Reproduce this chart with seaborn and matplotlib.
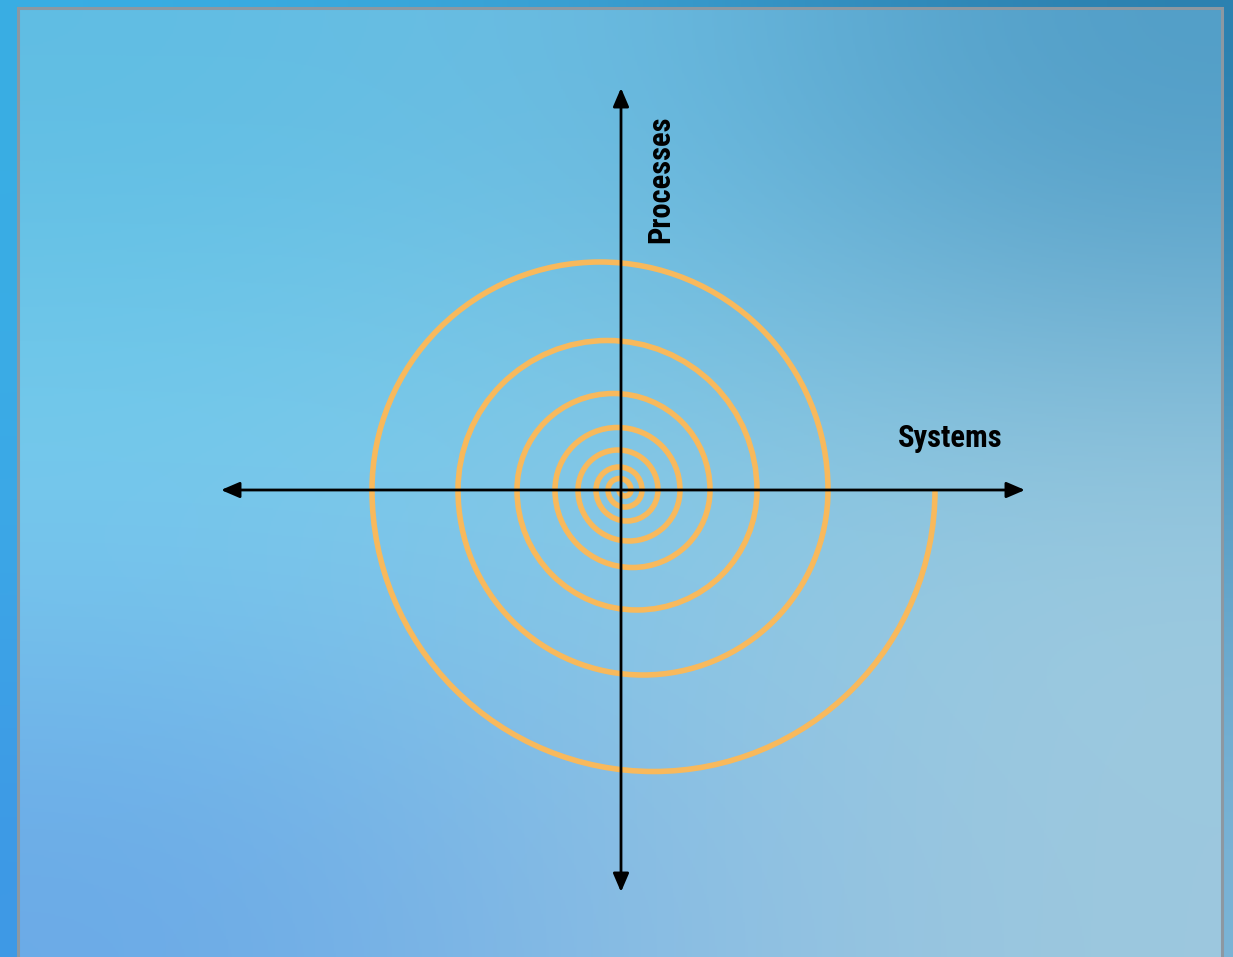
import numpy as np
import matplotlib
matplotlib.use("Agg")
import matplotlib.pyplot as plt
from matplotlib.patches import Arc, Rectangle
from matplotlib.colors import to_rgb
from matplotlib import font_manager
import seaborn as sns

# where the spiral crosses the horizontal axis, from the outside in
# (each pair of neighbours is joined by a half circle, first below the axis, then above)
spiral_crossings = [3.14, -2.49, 2.07, -1.63, 1.36, -1.04, 0.89, -0.66,
                    0.59, -0.43, 0.37, -0.25, 0.21, -0.13, 0.10, -0.02]

# the two axes arms
axis_left, axis_right = -4.00, 4.04
axis_bottom, axis_top = -4.02, 4.02

x_label = "Systems"
y_label = "Processes"

# background colours (rows top -> bottom, columns left -> right)
outer_colors = [["#39aee4", "#3a9fd2", "#2a7fae"],
                ["#3aace8", "#4aa6d6", "#5a9ec4"],
                ["#3d98e6", "#5aa0da", "#7db5d6"]]
panel_colors = [["#5fbde3", "#6ebde2", "#4f9cc6"],
                ["#7bd0ef", "#88cde8", "#9ccbe0"],
                ["#6aa9e7", "#88bce4", "#9dc8de"]]

spiral_color = "#f8b95c"

sns.set_theme(style="white")

# pick a narrow bold face if one is installed
narrow = ["Liberation Sans Narrow", "DejaVu Sans Condensed", "Roboto Condensed", "Roboto"]
names = {f.name for f in font_manager.fontManager.ttflist}
family = [n for n in narrow if n in names] + ["DejaVu Sans"]
plt.rcParams["font.family"] = family
label_size = 22 if family[0] != "Roboto" else 20

fig = plt.figure(figsize=(12.33, 9.57), dpi=100)
ax = fig.add_axes([0, 0, 1, 1])
xlim = (-6.21, 6.12)
ylim = (-4.67, 4.90)


def grad(colors):
    return np.array([[to_rgb(c) for c in row] for row in colors])


ax.imshow(grad(outer_colors), extent=(*xlim, *ylim), interpolation="bicubic", zorder=0)
panel = (-6.03, 6.01, -4.80, 4.82)
ax.imshow(grad(panel_colors), extent=panel, interpolation="bicubic", zorder=1)
ax.add_patch(Rectangle((panel[0], panel[2]), panel[1] - panel[0], panel[3] - panel[2],
                       fill=False, edgecolor="#8c98a2", lw=2.2, zorder=2))

# spiral made of half circles
for i in range(len(spiral_crossings) - 1):
    a, b = spiral_crossings[i], spiral_crossings[i + 1]
    c = (a + b) / 2
    d = abs(a - b)
    if i % 2 == 0:
        t1, t2 = 180, 360
    else:
        t1, t2 = 0, 180
    ax.add_patch(Arc((c, 0), d, d, theta1=t1, theta2=t2, color=spiral_color,
                     lw=4.0, zorder=3))

arrow = dict(arrowstyle="<|-|>,head_length=0.7,head_width=0.3", color="black",
             lw=2.0, mutation_scale=16, shrinkA=0, shrinkB=0)
ax.annotate("", xy=(axis_right, 0), xytext=(axis_left, 0), arrowprops=arrow, zorder=4)
ax.annotate("", xy=(0, axis_top), xytext=(0, axis_bottom), arrowprops=arrow, zorder=4)

ax.text(3.29, 0.52, x_label, fontsize=label_size, fontweight="bold", ha="center",
        va="center", color="black", zorder=5)
ax.text(0.39, 3.11, y_label, fontsize=label_size, fontweight="bold", ha="center",
        va="center", rotation=90, color="black", zorder=5)

ax.set_xlim(*xlim)
ax.set_ylim(*ylim)
ax.set_aspect("equal")
ax.axis("off")

fig.savefig("out.png", dpi=100)
